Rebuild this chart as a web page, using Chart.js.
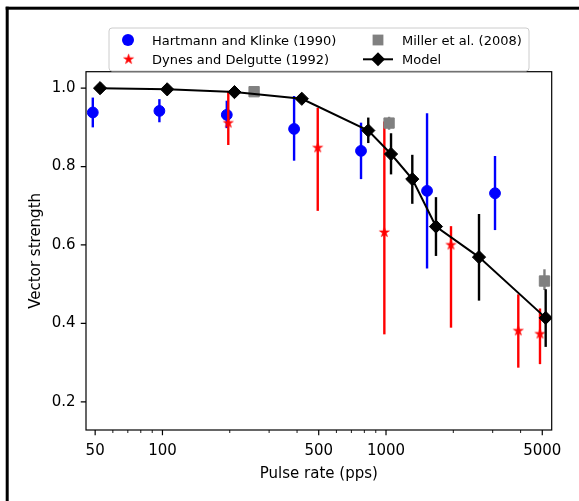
<!DOCTYPE html>
<html>
<head>
<meta charset="utf-8">
<script src="https://cdn.jsdelivr.net/npm/chart.js@4.4.0/dist/chart.umd.min.js"></script>
<style>
html,body{margin:0;padding:0;background:#fff;}
#wrap{position:relative;width:579px;height:501px;}
canvas{display:block;}
</style>
</head>
<body>
<div id="wrap"><canvas id="c" width="579" height="501"></canvas></div>
<script>
// ---- data ----
const hkRate = [48.8, 96.9, 194, 388, 773, 1526, 3073];
const hkVS   = [0.938, 0.942, 0.932, 0.896, 0.840, 0.738, 0.732];
const hkLo   = [0.900, 0.913, 0.898, 0.815, 0.768, 0.540, 0.638];
const hkHi   = [0.976, 0.972, 0.968, 0.980, 0.912, 0.936, 0.827];

const ddRate = [197, 495, 983, 1953, 3906, 4884];
const ddVS   = [0.911, 0.848, 0.632, 0.600, 0.381, 0.373];
const ddLo   = [0.855, 0.687, 0.372, 0.389, 0.287, 0.296];
const ddHi   = [0.993, 0.950, 0.915, 0.648, 0.474, 0.438];

const miRate = [257, 1032, 5114];
const miVS   = [0.991, 0.911, 0.508];
const miLo   = [0.987, 0.894, 0.485];
const miHi   = [0.995, 0.927, 0.538];

const moRate = [52.6, 105, 210, 420, 833, 1053, 1311, 1673, 2606, 5179];
const moVS   = [1.000, 0.997, 0.990, 0.973, 0.892, 0.832, 0.768, 0.647, 0.569, 0.414];
const moLo   = [null, null, null, null, 0.860, 0.780, 0.705, 0.572, 0.458, 0.340];
const moHi   = [null, null, null, null, 0.925, 0.885, 0.830, 0.722, 0.679, 0.487];

const seriesNames = ['Hartmann and Klinke (1990)', 'Dynes and Delgutte (1992)', 'Miller et al. (2008)', 'Model'];

const xTickValues = [50, 100, 500, 1000, 5000];
const xTickLabels = ['50', '100', '500', '1000', '5000'];
const xMinorTicks = [60, 70, 80, 90, 200, 300, 400, 600, 700, 800, 900, 2000, 3000, 4000];
const yTickValues = [0.2, 0.4, 0.6, 0.8, 1.0];
const yTickLabels = ['0.2', '0.4', '0.6', '0.8', '1.0'];
const xTitle = 'Pulse rate (pps)';
const yTitle = 'Vector strength';

// ---- marker image for the filled star ----
function makeStar(R) {
  const s = Math.ceil(R * 2 + 2);
  const cv = document.createElement('canvas');
  cv.width = s; cv.height = s;
  const g = cv.getContext('2d');
  const cx = s / 2, cy = s / 2, r = R * 0.382;
  g.beginPath();
  for (let k = 0; k < 10; k++) {
    const ang = -Math.PI / 2 + k * Math.PI / 5;
    const rr = (k % 2 === 0) ? R : r;
    const px = cx + rr * Math.cos(ang), py = cy + rr * Math.sin(ang);
    if (k === 0) g.moveTo(px, py); else g.lineTo(px, py);
  }
  g.closePath();
  g.fillStyle = '#ff0000';
  g.fill();
  g.strokeStyle = '#ff0000';
  g.lineWidth = 0.6;
  g.stroke();
  return cv;
}
const starImg = makeStar(5.2);

const pts = (xs, ys) => xs.map((x, i) => ({x: x, y: ys[i]}));

Chart.defaults.font.family = "'DejaVu Sans', sans-serif";
Chart.defaults.color = '#000';

const errorBars = {
  id: 'errorBars',
  beforeDatasetDraw(chart, args) {
    const ds = chart.data.datasets[args.index];
    if (!ds.errLo) return;
    const ctx = chart.ctx, xs = chart.scales.x, ys = chart.scales.y;
    ctx.save();
    ctx.strokeStyle = ds.errColor;
    ctx.lineWidth = 2.4;
    ctx.lineCap = 'butt';
    ds.data.forEach((p, i) => {
      const lo = ds.errLo[i], hi = ds.errHi[i];
      if (lo == null || hi == null) return;
      const px = xs.getPixelForValue(p.x);
      ctx.beginPath();
      ctx.moveTo(px, ys.getPixelForValue(lo));
      ctx.lineTo(px, ys.getPixelForValue(hi));
      ctx.stroke();
    });
    ctx.restore();
  }
};

const frame = {
  id: 'frame',
  beforeDraw(chart) {
    const ctx = chart.ctx;
    ctx.save();
    ctx.fillStyle = '#fff';
    ctx.fillRect(0, 0, chart.width, chart.height);
    ctx.fillStyle = '#000';
    ctx.fillRect(5.7, 6.7, 3, chart.height);
    ctx.fillRect(5.7, 6.7, chart.width, 3);
    ctx.restore();
  },
  afterDatasetsDraw(chart) {
    const ctx = chart.ctx, a = chart.chartArea, xs = chart.scales.x, ys = chart.scales.y;
    ctx.save();
    ctx.strokeStyle = '#000';
    ctx.lineWidth = 1.2;
    ctx.beginPath();
    xTickValues.forEach(v => { const px = xs.getPixelForValue(v); ctx.moveTo(px, a.bottom); ctx.lineTo(px, a.bottom + 5.25); });
    yTickValues.forEach(v => { const py = ys.getPixelForValue(v); ctx.moveTo(a.left, py); ctx.lineTo(a.left - 5.25, py); });
    ctx.stroke();
    ctx.lineWidth = 0.9;
    ctx.beginPath();
    xMinorTicks.forEach(v => { const px = xs.getPixelForValue(v); ctx.moveTo(px, a.bottom); ctx.lineTo(px, a.bottom + 3); });
    ctx.stroke();
    ctx.lineWidth = 1.2;
    ctx.strokeRect(a.left, a.top, a.right - a.left, a.bottom - a.top);
    ctx.restore();
  },
  afterDraw(chart) {
    const ctx = chart.ctx;
    ctx.save();
    const bx = 109, by = 28, bw = 420, bh = 43, r = 3;
    ctx.beginPath();
    ctx.moveTo(bx + r, by);
    ctx.arcTo(bx + bw, by, bx + bw, by + bh, r);
    ctx.arcTo(bx + bw, by + bh, bx, by + bh, r);
    ctx.arcTo(bx, by + bh, bx, by, r);
    ctx.arcTo(bx, by, bx + bw, by, r);
    ctx.closePath();
    ctx.fillStyle = 'rgba(255,255,255,0.8)';
    ctx.fill();
    ctx.strokeStyle = '#cccccc';
    ctx.lineWidth = 1;
    ctx.stroke();
    const ds = chart.data.datasets;
    const row1 = 40, row2 = 59.3;
    ctx.fillStyle = '#0000ff';
    ctx.beginPath(); ctx.arc(128, row1, 6, 0, Math.PI * 2); ctx.fill();
    ctx.drawImage(starImg, 128.6 - starImg.width / 2, row2 - starImg.height / 2);
    ctx.fillStyle = '#808080';
    ctx.fillRect(378 - 5.4, row1 - 5.4, 10.8, 10.8);
    ctx.strokeStyle = '#000'; ctx.lineWidth = 2;
    ctx.beginPath(); ctx.moveTo(363, row2); ctx.lineTo(393, row2); ctx.stroke();
    ctx.fillStyle = '#000';
    ctx.beginPath();
    ctx.moveTo(378, row2 - 7); ctx.lineTo(385, row2); ctx.lineTo(378, row2 + 7); ctx.lineTo(371, row2);
    ctx.closePath(); ctx.fill();
    ctx.fillStyle = '#000';
    ctx.font = "13px 'DejaVu Sans'";
    ctx.textBaseline = 'alphabetic';
    ctx.textAlign = 'left';
    ctx.fillText(ds[0].label, 152, 45);
    ctx.fillText(ds[1].label, 152, 64.3);
    ctx.fillText(ds[2].label, 402, 45);
    ctx.fillText(ds[3].label, 402, 64.3);
    ctx.restore();
  }
};

new Chart(document.getElementById('c'), {
  type: 'scatter',
  data: {
    datasets: [
      {
        label: seriesNames[0], data: pts(hkRate, hkVS), errLo: hkLo, errHi: hkHi, errColor: '#0000ff',
        pointStyle: 'circle', pointRadius: 5.4, pointBorderWidth: 1,
        backgroundColor: '#0000ff', borderColor: '#0000ff', showLine: false, order: 3
      },
      {
        label: seriesNames[1], data: pts(ddRate, ddVS), errLo: ddLo, errHi: ddHi, errColor: '#ff0000',
        pointStyle: starImg, pointRadius: 5,
        backgroundColor: '#ff0000', borderColor: '#ff0000', showLine: false, order: 2
      },
      {
        label: seriesNames[2], data: pts(miRate, miVS), errLo: miLo, errHi: miHi, errColor: '#808080',
        pointStyle: 'rect', pointRadius: 7.3, pointBorderWidth: 1,
        backgroundColor: '#808080', borderColor: '#808080', showLine: false, order: 1
      },
      {
        label: seriesNames[3], data: pts(moRate, moVS), errLo: moLo, errHi: moHi, errColor: '#000000',
        pointStyle: 'rectRot', pointRadius: 6.6, pointBorderWidth: 1,
        pointBackgroundColor: '#000', pointBorderColor: '#000',
        borderColor: '#000', borderWidth: 2, showLine: true, tension: 0, order: 0
      }
    ]
  },
  options: {
    responsive: false,
    animation: false,
    devicePixelRatio: 1,
    layout: {padding: {left: 0, top: 71.7, right: 27.3, bottom: 0}},
    plugins: {legend: {display: false}, tooltip: {enabled: false}},
    scales: {
      x: {
        type: 'logarithmic', position: 'bottom', min: 45.5, max: 5510,
        grid: {display: false, drawTicks: false},
        border: {display: false},
        afterBuildTicks: (s) => { s.ticks = xTickValues.concat(xMinorTicks).sort((a, b) => a - b).map(v => ({value: v})); },
        afterFit: (s) => { s.height = 71; },
        ticks: {
          autoSkip: false, maxRotation: 0, minRotation: 0, padding: 12,
          font: {size: 15}, color: '#000',
          callback: (v) => { const i = xTickValues.indexOf(v); return i >= 0 ? xTickLabels[i] : ''; }
        },
        title: {display: true, text: xTitle, font: {size: 15}, color: '#000', padding: {top: 0, bottom: 17.5}}
      },
      y: {
        type: 'linear', position: 'left', min: 0.128, max: 1.042,
        grid: {display: false, drawTicks: false},
        border: {display: false},
        afterBuildTicks: (s) => { s.ticks = yTickValues.map(v => ({value: v})); },
        afterFit: (s) => { s.width = 86; },
        ticks: {
          padding: 10.5, font: {size: 15}, color: '#000',
          callback: (v) => { const i = yTickValues.findIndex(t => Math.abs(t - v) < 1e-9); return i >= 0 ? yTickLabels[i] : ''; }
        },
        title: {display: true, text: yTitle, font: {size: 15}, color: '#000', padding: {top: 27, bottom: 0}}
      }
    }
  },
  plugins: [errorBars, frame]
});
</script>
</body>
</html>
